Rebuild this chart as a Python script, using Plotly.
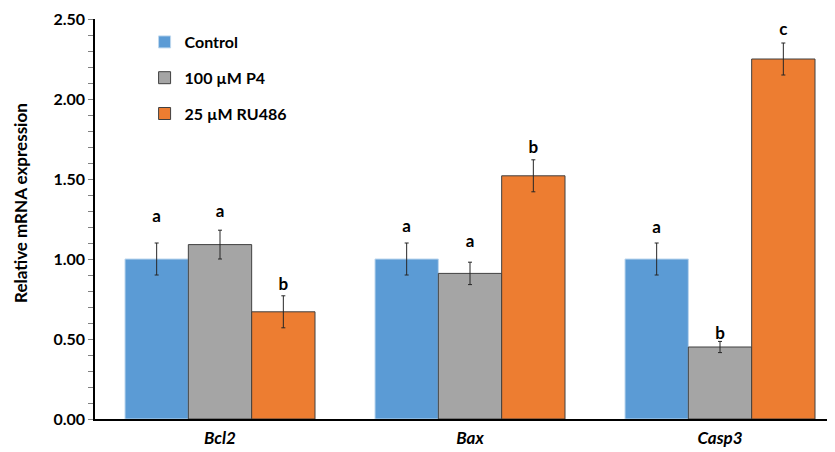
import plotly.graph_objects as go

genes = ["Bcl2", "Bax", "Casp3"]
gene_labels = ["<i>Bcl2</i>", "<i>Bax</i>", "<i>Casp3</i>"]
series_names = ["Control", "100 µM P4", "25 µM RU486"]
control = [1.00, 1.00, 1.00]
p4 = [1.09, 0.91, 0.45]
ru486 = [0.67, 1.52, 2.25]
control_err = [0.10, 0.10, 0.10]
p4_err = [0.09, 0.07, 0.035]
ru486_err = [0.10, 0.10, 0.10]
control_letters = ["a", "a", "a"]
p4_letters = ["a", "a", "b"]
ru486_letters = ["b", "b", "c"]
# height (in axis units) at which each significance letter sits
control_letter_y = [1.207, 1.142, 1.139]
p4_letter_y = [1.236, 1.049, 0.476]
ru486_letter_y = [0.778, 1.639, 2.372]

colors = ["#5B9BD5", "#A5A5A5", "#ED7D31"]
edges = ["#BDD7EE", "#404040", "#404040"]
FONT = "Lato"

fig = go.Figure()
values = [control, p4, ru486]
errors = [control_err, p4_err, ru486_err]
letters = [control_letters, p4_letters, ru486_letters]
letter_y = [control_letter_y, p4_letter_y, ru486_letter_y]
for i, name in enumerate(series_names):
    fig.add_trace(go.Bar(
        x=genes, y=values[i], name=name, offsetgroup=str(i), legendgroup=str(i),
        marker=dict(color=colors[i], line=dict(color=edges[i], width=1)),
        error_y=dict(type="data", array=errors[i], visible=True,
                     color="#262626", thickness=1, width=2),
    ))
for i in range(3):
    fig.add_trace(go.Scatter(
        x=genes, y=letter_y[i],
        mode="text", text=letters[i], textposition="top center",
        textfont=dict(family=FONT, size=17, color="black", weight="bold"),
        offsetgroup=str(i), showlegend=False, hoverinfo="skip",
    ))

fig.add_annotation(
    text="Relative mRNA expression", textangle=-90, showarrow=False,
    xref="paper", yref="paper", x=-0.1014, y=0.54, xanchor="center", yanchor="middle",
    font=dict(family=FONT, size=17, color="black", weight="bold"),
)

fig.update_layout(
    width=835, height=452,
    margin=dict(l=87, r=8, t=11, b=41),
    paper_bgcolor="white", plot_bgcolor="white",
    barmode="group", bargap=0.24, bargroupgap=0, scattermode="group",
    font=dict(family=FONT, color="black"),
    legend=dict(x=0.067, y=0.985, xanchor="left", yanchor="top",
                font=dict(family=FONT, size=16, color="black", weight="bold"),
                tracegroupgap=12, bgcolor="rgba(0,0,0,0)"),
    xaxis=dict(
        tickvals=genes, ticktext=gene_labels, range=[-0.5, 2.46],
        showline=True, linecolor="black", linewidth=1.5, ticks="",
        ticklabelstandoff=3,
        tickfont=dict(family=FONT, size=17, color="black", weight="bold"),
        showgrid=False, zeroline=False, automargin=False,
    ),
    yaxis=dict(
        range=[0, 2.5], dtick=0.5, tickformat=".2f",
        showline=True, linecolor="black", linewidth=1.5,
        ticks="outside", ticklen=5, tickcolor="#808080", tickwidth=1,
        minor=dict(dtick=0.1, ticks="outside", ticklen=5, tickcolor="#808080", tickwidth=1),
        tickfont=dict(family=FONT, size=16, color="black", weight="bold"),
        showgrid=False, zeroline=False, automargin=False,
    ),
)

fig.write_html("out.html")
